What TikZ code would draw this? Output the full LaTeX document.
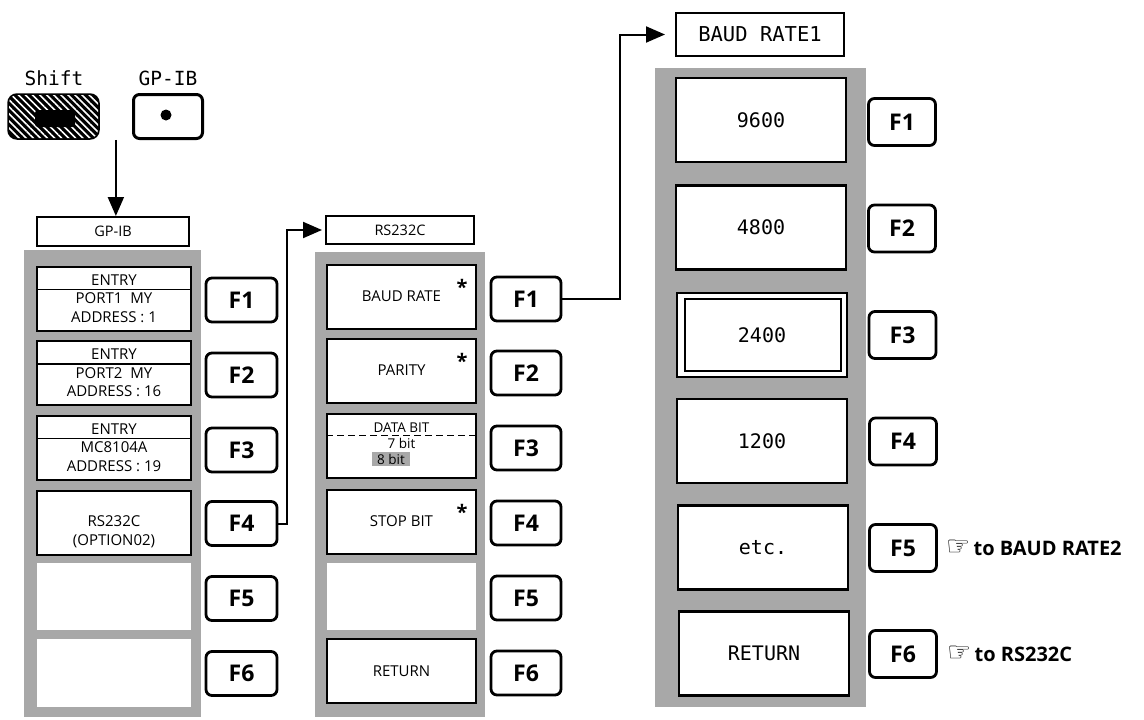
\documentclass[tikz,border=0pt]{standalone}
\usepackage{fontspec}
\setmainfont{Open Sans}
\setmonofont{DejaVu Sans Mono}
\newfontfamily\symfont{DejaVu Sans}
\usetikzlibrary{arrows.meta,calc,patterns.meta}
\begin{document}
\begin{tikzpicture}[x=1pt,y=-1pt,
  panel/.style={fill=black!34},
  fkey/.style={draw,line width=2.8pt,rounded corners=6pt,fill=white,inner sep=0pt,
    minimum width=#1,minimum height=44pt,font=\fontsize{23}{23}\selectfont\bfseries},
  fkey/.default=70pt,
  sbox/.style={draw,line width=2pt,fill=white,inner sep=0pt,minimum width=#1,
    minimum height=64pt,align=center,font=\fontsize{15}{18.5}\selectfont},
  bbox/.style={draw,line width=2.4pt,fill=white,inner sep=0pt,minimum width=170pt,
    minimum height=84pt,font=\ttfamily\fontsize{20}{20}\selectfont},
  ttl/.style={draw,line width=2pt,fill=white,inner sep=0pt,font=\fontsize{14.5}{14.5}\selectfont},
  txt/.style={inner sep=0pt,align=center,font=\fontsize{15}{19}\selectfont},
  small/.style={inner sep=0pt,font=\fontsize{13.5}{13.5}\selectfont},
  star/.style={inner sep=0pt,font=\fontsize{20}{20}\selectfont\bfseries},
  keylbl/.style={inner sep=0pt,font=\ttfamily\fontsize{19.5}{19.5}\selectfont},
  note/.style={inner sep=0pt,anchor=west,font=\fontsize{20}{20}\selectfont\bfseries},
  arr/.style={line width=2pt,-{Triangle[length=19pt,width=16pt]}}
]
\useasboundingbox (0,0) rectangle (1144,720);

% ---------- keys ----------
\node[keylbl] (shiftlbl) at (54,78) {Shift};
\node[keylbl] (gpiblbl) at (168,78) {GP-IB};
\node[draw,line width=3.5pt,rounded corners=8pt,minimum width=89pt,minimum height=43pt,
  fill=black,postaction={pattern={Lines[angle=-45,distance=5pt,line width=1.6pt]},pattern color=white}]
  (shift) at (53.5,116.5) {};
\node[fill=black,rounded corners=3pt,minimum width=40pt,minimum height=17pt,inner sep=0pt]
  (shiftbar) at (55,118.5) {};
\node[draw,line width=3pt,rounded corners=6pt,minimum width=69pt,minimum height=44pt]
  (gpib) at (168,116.5) {};
\node[circle,fill=black,inner sep=0pt,minimum size=11pt] (gpibdot) at (166,115) {};

% ---------- GP-IB column ----------
\node[ttl,minimum width=152pt,minimum height=29pt] (gptitle) at (113,231.5) {GP-IB};
\fill[panel] (24,250) rectangle (201,717);
\node[sbox=154pt] (l1) at (114,298.5) {ENTRY\\PORT1\ \ MY\\ADDRESS : 1};
\node[sbox=154pt] (l2) at (114,373) {ENTRY\\PORT2\ \ MY\\ADDRESS : 16};
\node[sbox=154pt] (l3) at (114,447.5) {ENTRY\\MC8104A\\ADDRESS : 19};
\node[sbox=154pt] (l4) at (114,522.5) {};
\node[txt] (l4t) at (114,532) {RS232C\\(OPTION02)};
\node[sbox=154pt,draw=none,minimum height=67pt] (l5) at (114,596) {};
\node[sbox=154pt,draw=none,minimum height=68pt] (l6) at (114,672.5) {};
\foreach \b in {l1,l2,l3}
  \draw[line width=1.6pt] ($(\b.north west)+(0,24)$) -- ($(\b.north east)+(0,24)$);

\node[fkey=71pt] (lf1) at (241.5,300) {F1};
\node[fkey=71pt] (lf2) at (241.5,375) {F2};
\node[fkey=71pt] (lf3) at (241.5,450) {F3};
\node[fkey=71pt] (lf4) at (241.5,523.5) {F4};
\node[fkey=71pt] (lf5) at (241.5,598.5) {F5};
\node[fkey=71pt] (lf6) at (241.5,673.5) {F6};

% ---------- RS232C column ----------
\node[ttl,minimum width=148pt,minimum height=28pt] (rstitle) at (400,230) {RS232C};
\fill[panel] (315,252) rectangle (485,717);
\node[sbox=149pt] (rs1) at (401.5,296.5) {BAUD RATE};
\node[sbox=149pt] (rs2) at (401.5,370.5) {PARITY};
\node[sbox=149pt] (rs3) at (401.5,445.5) {};
\node[sbox=149pt] (rs4) at (401.5,521.5) {STOP BIT};
\node[sbox=149pt,draw=none,minimum height=67pt] (rs5) at (401.5,596) {};
\node[sbox=149pt] (rs6) at (401.5,671) {RETURN};
\foreach \b in {rs1,rs2,rs4}
  \node[star] at ($(\b.north east)+(-15,23)$) {*};
\node[small] (db) at (401.5,428) {DATA BIT};
\draw[line width=1.5pt,dash pattern=on 7pt off 4pt] (rs3.west |- 0,435.5) -- (rs3.east |- 0,435.5);
\node[small] (b7) at (401.5,443.5) {7 bit};
\node[small,fill=black!34,inner xsep=5pt,inner ysep=1.5pt] (b8) at (391,459) {8 bit};

\node[fkey] (rf1) at (526,299) {F1};
\node[fkey] (rf2) at (526,373) {F2};
\node[fkey] (rf3) at (526,448) {F3};
\node[fkey] (rf4) at (526,523) {F4};
\node[fkey] (rf5) at (526,598) {F5};
\node[fkey] (rf6) at (526,673) {F6};

% ---------- BAUD RATE1 column ----------
\node[ttl,minimum width=168pt,minimum height=43pt,font=\ttfamily\fontsize{20.5}{20.5}\selectfont]
  (btitle) at (760,34.5) {BAUD RATE1};
\fill[panel] (655,68) rectangle (866,707);
\node[bbox] (bb1) at (761,120) {9600};
\node[bbox] (bb2) at (761,227.5) {4800};
\node[bbox] (bb3) at (762,335) {2400};
\node[bbox] (bb4) at (762,441) {1200};
\node[bbox] (bb5) at (763,547.5) {etc.};
\node[bbox] (bb6) at (764,653.5) {RETURN};
\draw[line width=2pt] ($(bb3.north west)+(9,7)$) rectangle ($(bb3.south east)+(-7,-7)$);

\node[fkey=67pt,minimum height=47pt] (bf1) at (902,122) {F1};
\node[fkey=67pt,minimum height=47pt] (bf2) at (902,228.5) {F2};
\node[fkey=67pt,minimum height=47pt] (bf3) at (902.5,335) {F3};
\node[fkey=67pt,minimum height=47pt] (bf4) at (903,441.5) {F4};
\node[fkey=67pt,minimum height=47pt] (bf5) at (903,548) {F5};
\node[fkey=67pt,minimum height=47pt] (bf6) at (903,654) {F6};

\node[note] (n5) at ($(bf5.east)+(8,0)$) {{\symfont\fontsize{27}{27}\selectfont ☞}\,to BAUD RATE2};
\node[note] (n6) at ($(bf6.east)+(9,0)$) {{\symfont\fontsize{27}{27}\selectfont ☞}\,to RS232C};

% ---------- connectors ----------
\coordinate (shiftgap) at ($(shift.south east)!0.5!(gpib.south west)$);
\draw[arr] (shiftgap) -- (shiftgap |- gptitle.north);
\draw[arr] (lf4.east) -- ++(9,0) |- ([xshift=-3pt]rstitle.west);
\draw[arr] (rf1.east) -- ++(58,0) |- ([xshift=-10pt]btitle.west);
\end{tikzpicture}
\end{document}
